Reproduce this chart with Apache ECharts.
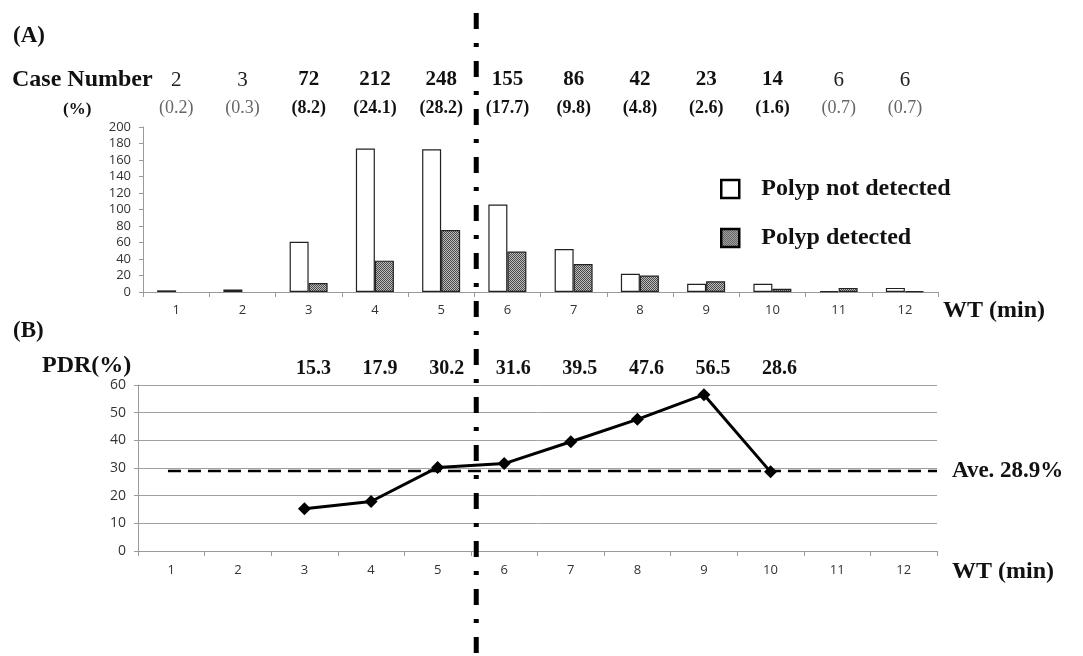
<!DOCTYPE html>
<html>
<head>
<meta charset="utf-8">
<script src="https://cdn.jsdelivr.net/npm/echarts@6/dist/echarts.min.js"></script>
<style>
  html, body { margin: 0; padding: 0; background: #fff; }
  #chart { width: 1083px; height: 656px; }
</style>
</head>
<body>
<div id="chart"></div>
<script>
// ---- data ----
const categories   = ['1','2','3','4','5','6','7','8','9','10','11','12'];
const notDetected  = [2, 3, 61, 174, 173, 106, 52, 22, 10, 10, 1, 5];
const detected     = [0, 0, 11, 38, 75, 49, 34, 20, 13, 4, 5, 1];
const caseNumbers  = [2, 3, 72, 212, 248, 155, 86, 42, 23, 14, 6, 6];
const casePercents = ['0.2','0.3','8.2','24.1','28.2','17.7','9.8','4.8','2.6','1.6','0.7','0.7'];
const pdr          = [null, null, 15.3, 17.9, 30.2, 31.6, 39.5, 47.6, 56.5, 28.6, null, null];
const average      = 28.9;
const averageSpan  = [0.45, 12];     // the dashed average line runs from category 1 to the axis end
const topYTicks    = { min: 0, max: 200, interval: 20 };
const bottomYTicks = { min: 0, max: 60, interval: 10 };
const separatorAfter = '5';           // dash-dot divider between WT 5 and 6

const SERIF = '"Liberation Serif", "Times New Roman", serif';
const SANS  = '"Open Sans", "Noto Sans", sans-serif';

// texture for "Polyp detected"
const pat = document.createElement('canvas');
pat.width = 2; pat.height = 2;
const pc = pat.getContext('2d');
pc.fillStyle = '#bdbdbd'; pc.fillRect(0,0,2,2);
pc.fillStyle = '#4a4a4a'; pc.fillRect(0,0,1,1); pc.fillRect(1,1,1,1);
const patternFill = { image: pat, repeat: 'repeat' };

const chart = echarts.init(document.getElementById('chart'), null, { renderer: 'canvas' });

const axisGray = '#9a9a9a';
const tickLabel = { fontFamily: SANS, fontSize: 13, color: '#333' };

const option = {
  animation: false,
  backgroundColor: '#fff',
  grid: [
    { left: 143, right: 145, top: 127, height: 165 },
    { left: 138, right: 146, top: 385, height: 166 }
  ],
  legend: {
    orient: 'vertical', left: 720, top: 177, padding: 0,
    itemWidth: 18, itemHeight: 18, itemGap: 25,
    icon: 'rect',
    textStyle: { fontFamily: SERIF, fontWeight: 'bold', fontSize: 24, lineHeight: 24, color: '#111', padding: [0,0,0,17] },
    data: [
      { name: 'Polyp not detected', itemStyle: { color: '#fff', borderColor: '#000', borderWidth: 2.5 } },
      { name: 'Polyp detected', itemStyle: { color: patternFill, borderColor: '#000', borderWidth: 2.5 } }
    ]
  },
  xAxis: [
    { // 0: top chart categories
      type: 'category', gridIndex: 0, data: categories,
      axisLine: { lineStyle: { color: axisGray, width: 1 } },
      axisTick: { show: true, length: 5, lineStyle: { color: axisGray } },
      axisLabel: Object.assign({ margin: 12, interval: 0 }, tickLabel),
      name: 'WT (min)', nameLocation: 'end', nameGap: 5,
      nameTextStyle: { fontFamily: SERIF, fontWeight: 'bold', fontSize: 24, color: '#111',
                       verticalAlign: 'top', padding: [7,0,0,0] }
    },
    { // 1: bottom chart categories
      type: 'category', gridIndex: 1, data: categories,
      axisLine: { lineStyle: { color: axisGray, width: 1 } },
      axisTick: { show: true, length: 5, lineStyle: { color: axisGray } },
      axisLabel: Object.assign({ margin: 13, interval: 0 }, tickLabel),
      name: 'WT (min)', nameLocation: 'end', nameGap: 15,
      nameTextStyle: { fontFamily: SERIF, fontWeight: 'bold', fontSize: 24, color: '#111',
                       verticalAlign: 'top', padding: [9,0,0,0] }
    },
    { // 2: case numbers row
      type: 'category', gridIndex: 0, data: categories, position: 'top',
      axisLine: { show: false }, axisTick: { show: false },
      axisLabel: {
        interval: 0, margin: 36,
        formatter: (v, i) => (pdr[i] !== null ? '{b|' : '{r|') + caseNumbers[i] + '}',
        rich: {
          b: { fontFamily: SERIF, fontWeight: 'bold', fontSize: 21, color: '#111', lineHeight: 22 },
          r: { fontFamily: SERIF, fontWeight: 'normal', fontSize: 21, color: '#222', lineHeight: 22 }
        }
      }
    },
    { // 3: percentage row
      type: 'category', gridIndex: 0, data: categories, position: 'top',
      axisLine: { show: false }, axisTick: { show: false },
      axisLabel: {
        interval: 0, margin: 9,
        formatter: (v, i) => (pdr[i] !== null ? '{b|(' : '{r|(') + casePercents[i] + ')}',
        rich: {
          b: { fontFamily: SERIF, fontWeight: 'bold', fontSize: 18, color: '#111', lineHeight: 20 },
          r: { fontFamily: SERIF, fontWeight: 'normal', fontSize: 18, color: '#666', lineHeight: 20 }
        }
      }
    },
    { // 4: PDR value row
      type: 'category', gridIndex: 1, data: categories, position: 'top',
      axisLine: { show: false }, axisTick: { show: false },
      axisLabel: {
        interval: 0, margin: 6,
        fontFamily: SERIF, fontWeight: 'bold', fontSize: 20, color: '#111',
        padding: [0,0,0,18],
        formatter: (v, i) => (pdr[i] !== null ? pdr[i].toFixed(1) : '')
      }
    },
    { // 5: hidden value axis for the average line
      type: 'value', gridIndex: 1, min: 0, max: 12, show: false
    }
  ],
  yAxis: [
    {
      type: 'value', gridIndex: 0, min: topYTicks.min, max: topYTicks.max, interval: topYTicks.interval,
      axisLine: { show: true, lineStyle: { color: axisGray } },
      axisTick: { show: true, length: 4, lineStyle: { color: axisGray } },
      splitLine: { show: false },
      axisLabel: Object.assign({ margin: 12 }, tickLabel)
    },
    {
      type: 'value', gridIndex: 1, min: bottomYTicks.min, max: bottomYTicks.max, interval: bottomYTicks.interval,
      axisLine: { show: true, lineStyle: { color: axisGray } },
      axisTick: { show: true, length: 4, lineStyle: { color: axisGray } },
      splitLine: { show: true, lineStyle: { color: '#a0a0a0', width: 1 } },
      axisLabel: Object.assign({}, tickLabel, { margin: 12, fontSize: 14 })
    }
  ],
  series: [
    {
      name: 'Polyp not detected', type: 'bar', xAxisIndex: 0, yAxisIndex: 0,
      barWidth: 19, barGap: '0%',
      itemStyle: { color: '#fff', borderColor: '#222', borderWidth: 1.2 },
      data: notDetected.map(v => (v === 0 ? '-' : v))
    },
    {
      name: 'Polyp detected', type: 'bar', xAxisIndex: 0, yAxisIndex: 0,
      barWidth: 19, barGap: '0%',
      itemStyle: { color: patternFill, borderColor: '#222', borderWidth: 1.2 },
      data: detected.map(v => (v === 0 ? '-' : v))
    },
    {
      name: 'PDR', type: 'line', xAxisIndex: 1, yAxisIndex: 1,
      data: pdr.map(v => (v === null ? '-' : v)),
      connectNulls: false,
      symbol: 'diamond', symbolSize: 13,
      lineStyle: { color: '#000', width: 3 },
      itemStyle: { color: '#000' },
      z: 5
    },
    {
      name: 'Average', type: 'line', xAxisIndex: 5, yAxisIndex: 1,
      data: [[averageSpan[0], average], [averageSpan[1], average]],
      symbol: 'none',
      lineStyle: { color: '#000', width: 2.5, type: [13, 7] },
      endLabel: {
        show: true, distance: 15,
        formatter: () => 'Ave. ' + average + '%',
        fontFamily: SERIF, fontWeight: 'bold', fontSize: 23, color: '#111'
      },
      z: 4
    }
  ]
};
chart.setOption(option);

// Texts and the dash-dot divider
const x5 = chart.convertToPixel({ xAxisIndex: 0 }, separatorAfter);
const x6 = chart.convertToPixel({ xAxisIndex: 0 }, categories[categories.indexOf(separatorAfter) + 1]);
const divX = (x5 + x6) / 2 + 2;
const T = (text, x, y, size, align) => ({
  type: 'text', x: x, y: y, z: 50,
  style: { text: text, font: 'bold ' + size + 'px ' + SERIF, fill: '#111',
           align: align || 'left', verticalAlign: 'middle' }
});
chart.setOption({
  graphic: [
    T('(A)', 13, 36, 23),
    T('Case Number', 12, 80, 24),
    T('(%)', 63, 110, 17),
    T('(B)', 13, 331, 23),
    T('PDR(%)', 42, 366, 24),
    {
      type: 'line', z: 100,
      shape: { x1: divX, y1: 13, x2: divX, y2: 660 },
      style: { stroke: '#000', lineWidth: 5, lineDash: [16, 14, 4, 14] }
    }
  ]
});
</script>
</body>
</html>
